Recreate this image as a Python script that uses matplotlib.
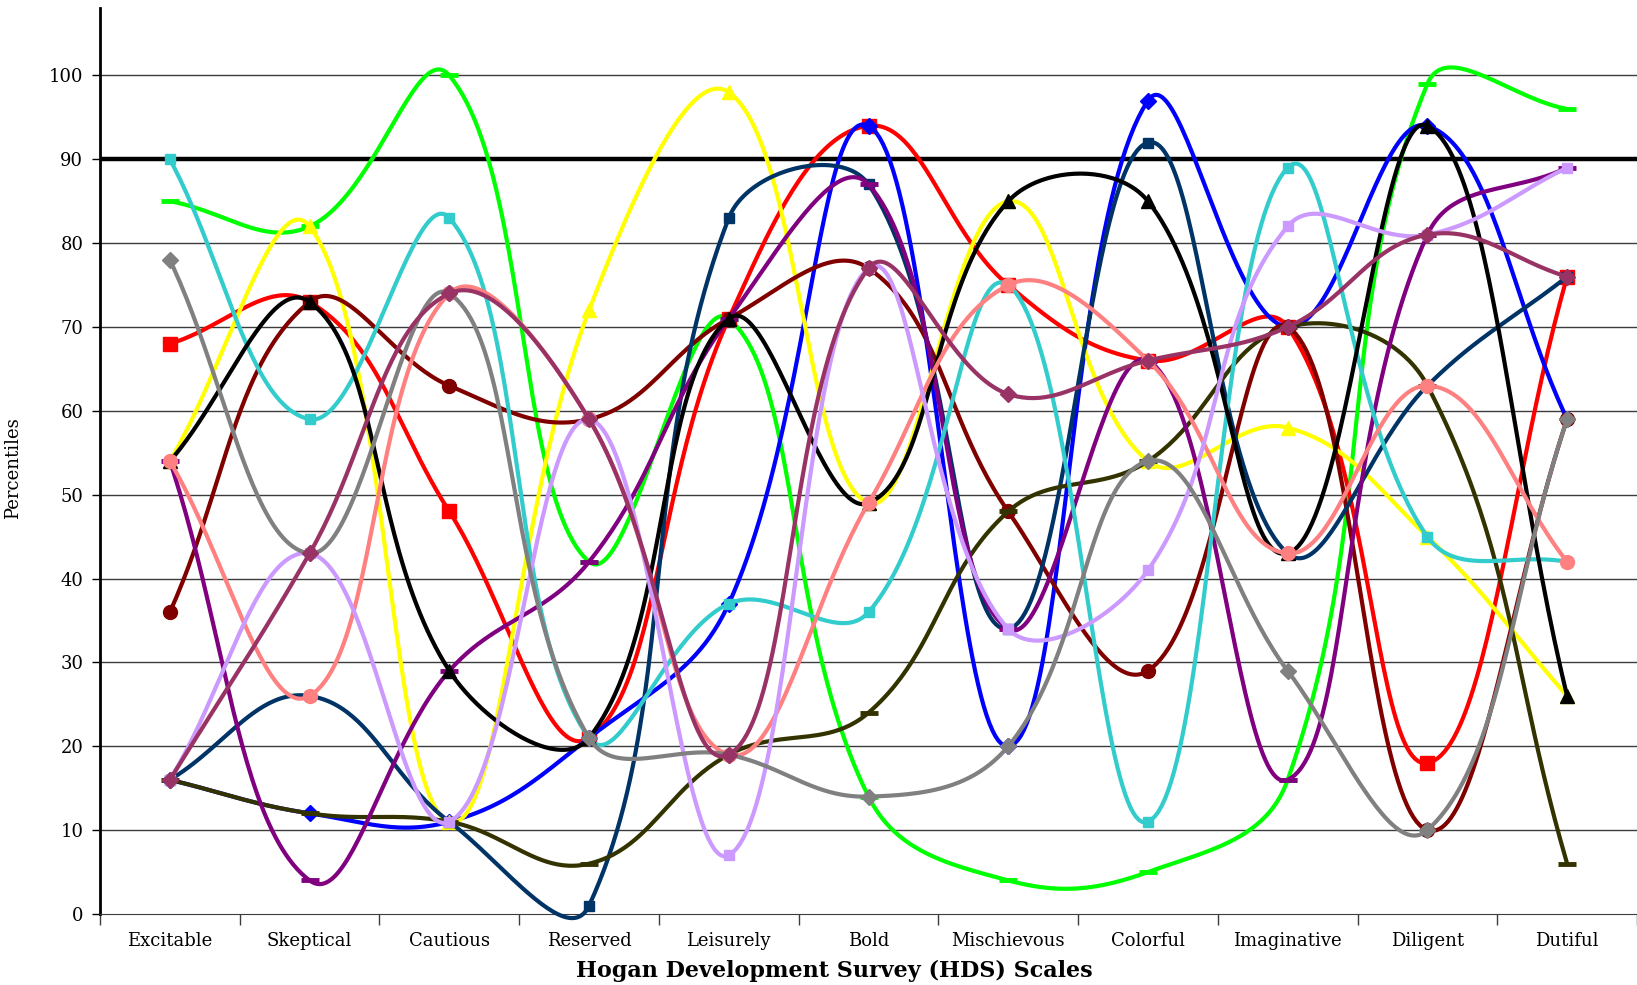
import numpy as np
import matplotlib
matplotlib.use("Agg")
import matplotlib.pyplot as plt

categories = ["Excitable", "Skeptical", "Cautious", "Reserved", "Leisurely", "Bold",
              "Mischievous", "Colorful", "Imaginative", "Diligent", "Dutiful"]

# percentile scores per person, one list per line
red = [68, 73, 48, 21, 71, 94, 75, 66, 70, 18, 76]
lime = [85, 82, 100, 42, 71, 14, 4, 5, 16, 99, 96]
turquoise = [90, 59, 83, 21, 37, 36, 75, 11, 89, 45, 42]
yellow = [54, 82, 11, 72, 98, 49, 85, 54, 58, 45, 26]
black = [54, 73, 29, 21, 71, 49, 85, 85, 43, 94, 26]
maroon = [36, 73, 63, 59, 71, 77, 48, 29, 70, 10, 59]
grey = [78, 43, 74, 21, 19, 14, 20, 54, 29, 10, 59]
salmon = [54, 26, 74, 59, 19, 49, 75, 66, 43, 63, 42]
lavender = [16, 43, 11, 59, 7, 77, 34, 41, 82, 81, 89]
purple = [54, 4, 29, 42, 71, 87, 34, 66, 16, 81, 89]
blue = [16, 12, 11, 21, 37, 94, 20, 97, 70, 94, 59]
navy = [16, 26, 11, 1, 83, 87, 34, 92, 43, 63, 76]
olive = [16, 12, 11, 6, 19, 24, 48, 54, 70, 63, 6]
plum = [16, 43, 74, 59, 19, 77, 62, 66, 70, 81, 76]

threshold = 90

# drawing order, bottom to top: (values, colour, marker, marker size)
series = [
    (lime, "#00FF00", "_", 13),
    (red, "#FF0000", "s", 10),
    (blue, "#0000FF", "D", 8),
    (yellow, "#FFFF00", "^", 10),
    (maroon, "#800000", "o", 10),
    (navy, "#003366", "s", 7),
    (olive, "#333300", "_", 13),
    (purple, "#800080", "_", 13),
    (turquoise, "#33CCCC", "s", 7),
    (black, "#000000", "^", 10),
    (salmon, "#FF8080", "o", 10),
    (lavender, "#CC99FF", "s", 7),
    (grey, "#808080", "D", 8),
    (plum, "#993366", "D", 8),
]

TENSION = 0.4


def smooth(ax, vals, steps=50):
    # spreadsheet-style smoothed line: cubic Bezier pieces whose handles
    # are scaled by the on-screen length of the neighbouring segments
    p = np.column_stack([np.arange(len(vals), dtype=float), np.asarray(vals, float)])
    d = ax.transData.transform(p)
    ext = np.vstack([p[0], p, p[-1]])
    dext = np.vstack([d[0], d, d[-1]])
    t = np.linspace(0, 1, steps)[:, None]
    out = []
    for i in range(len(p) - 1):
        a, b, c, e = ext[i], ext[i + 1], ext[i + 2], ext[i + 3]
        da, db, dc, de = dext[i], dext[i + 1], dext[i + 2], dext[i + 3]
        d01 = np.hypot(*(db - da))
        d12 = np.hypot(*(dc - db))
        d23 = np.hypot(*(de - dc))
        f1 = d12 / (d01 + d12) if d01 + d12 > 0 else 0.5
        f2 = d12 / (d12 + d23) if d12 + d23 > 0 else 0.5
        c1 = b + (c - a) * f1 * TENSION
        c2 = c - (e - b) * f2 * TENSION
        seg = ((1 - t) ** 3) * b + 3 * ((1 - t) ** 2) * t * c1 + 3 * (1 - t) * t ** 2 * c2 + t ** 3 * c
        out.append(seg if i == 0 else seg[1:])
    seg = np.vstack(out)
    return seg[:, 0], seg[:, 1]


plt.rcParams["font.family"] = ["DejaVu Serif"]

fig = plt.figure(figsize=(16.37, 9.85), dpi=100)
ax = fig.add_axes([0.0611, 0.0721, 0.9389, 0.9194])
ax.set_xlim(-0.5, len(categories) - 0.5)
ax.set_ylim(0, 108)

x = np.arange(len(categories))
for k, (vals, col, mk, ms) in enumerate(series):
    sx, sy = smooth(ax, vals)
    z = 3 + k * 0.1
    ax.plot(sx, sy, color=col, lw=3, zorder=z, clip_on=False, solid_capstyle="round")
    if mk == "_":
        ax.plot(x, vals, ls="none", marker=mk, ms=ms, mew=3.5, color=col, zorder=z + 0.05, clip_on=False)
    else:
        ax.plot(x, vals, ls="none", marker=mk, ms=ms, mfc=col, mec=col, color=col, zorder=z + 0.05, clip_on=False)

for v in range(10, 101, 10):
    if v == threshold:
        continue
    ax.axhline(v, color="#3c3c3c", lw=1.0, zorder=1)
ax.axhline(threshold, color="black", lw=3.2, zorder=2)

ax.set_yticks(range(0, 101, 10))
ax.set_xticks(x)
ax.set_xticklabels(categories)
ax.set_xticks(np.arange(-0.5, len(categories), 1), minor=True)
ax.tick_params(axis="x", which="major", length=0, pad=13, labelsize=13)
ax.tick_params(axis="x", which="minor", length=8, width=1, direction="out", color="#3c3c3c")
ax.tick_params(axis="y", length=6, width=1, direction="out", pad=6, labelsize=13)

for side in ["top", "right"]:
    ax.spines[side].set_visible(False)
ax.spines["left"].set_linewidth(2)
ax.spines["bottom"].set_color("#3c3c3c")

ax.set_xlabel("Hogan Development Survey (HDS) Scales", fontsize=16, fontweight="bold")
ax.xaxis.set_label_coords(0.478, -0.051)
ax.set_ylabel("Percentiles", fontsize=13)
ax.yaxis.set_label_coords(-0.051, 0.492)

fig.savefig("out.png", dpi=100)
